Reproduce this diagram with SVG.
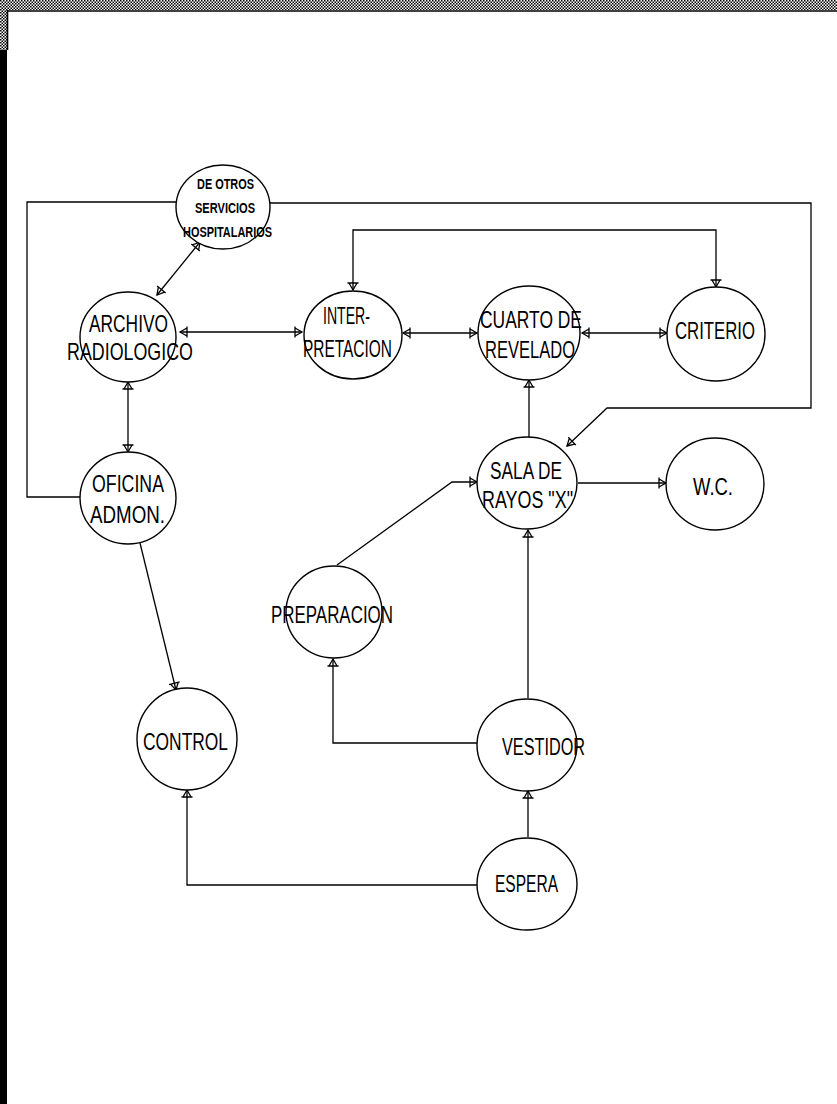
<svg xmlns="http://www.w3.org/2000/svg" width="837" height="1104" viewBox="0 0 837 1104">
<style>
.n ellipse{fill:#fff;stroke:#000;stroke-width:1.4}
.n text{font-family:"Liberation Sans",Arial,sans-serif;font-size:24px;fill:#000;text-anchor:middle}
.n text.s{font-size:14.5px;font-weight:bold}
.c path{fill:none;stroke:#000;stroke-width:1.3}
</style>
<defs>
<pattern id="dither" width="3" height="3" patternUnits="userSpaceOnUse">
<rect width="3" height="3" fill="#fff"/>
<rect x="0" y="0" width="1.5" height="1.5" fill="#000"/>
<rect x="1.5" y="1.5" width="1.5" height="1.5" fill="#000"/>
</pattern>
<marker id="ah" markerUnits="userSpaceOnUse" markerWidth="16" markerHeight="16" refX="0" refY="0" viewBox="-9 -8 11 16" orient="auto-start-reverse" overflow="visible">
<path d="M-7,-5.5 L-7,5.5 M-7,-4 L0,0 L-7,4" fill="none" stroke="#000" stroke-width="1.3"/>
</marker>
</defs>
<rect width="837" height="1104" fill="#fff"/>
<g id="border">
<rect x="0" y="0" width="837" height="10" fill="url(#dither)"/>
<rect x="0" y="0" width="7" height="50" fill="url(#dither)"/>
<rect x="0" y="50" width="7" height="1054" fill="#000"/>
<path d="M7,11 H837 M7.5,10 V50" stroke="#000" stroke-width="1.6" fill="none"/>
</g>
<g class="c" id="connectors">
<path d="M200,242 L157,295" marker-start="url(#ah)" marker-end="url(#ah)"/>
<path d="M80,497 H27 V202 H176"/>
<path d="M270,203 H811 V408 H607 L567,446" marker-end="url(#ah)"/>
<path d="M180,332 H302" marker-start="url(#ah)" marker-end="url(#ah)"/>
<path d="M403,333 H477" marker-start="url(#ah)" marker-end="url(#ah)"/>
<path d="M582,333 H667" marker-start="url(#ah)" marker-end="url(#ah)"/>
<path d="M716,287 V230 H353 V290" marker-start="url(#ah)" marker-end="url(#ah)"/>
<path d="M128,382 V452" marker-start="url(#ah)" marker-end="url(#ah)"/>
<path d="M140,543 L176,690" marker-end="url(#ah)"/>
<path d="M529,437 V380" marker-end="url(#ah)"/>
<path d="M578,483 H666" marker-end="url(#ah)"/>
<path d="M337,565 L452,482 H477" marker-end="url(#ah)"/>
<path d="M528,698 V530" marker-end="url(#ah)"/>
<path d="M477,743 H333 V659" marker-end="url(#ah)"/>
<path d="M528,837 V791" marker-end="url(#ah)"/>
<path d="M477,885 H187 V790" marker-end="url(#ah)"/>
</g>
<g class="n" id="otros">
<ellipse cx="223" cy="207" rx="47" ry="42"/>
<text class="s" x="225.5" y="189" textLength="57" lengthAdjust="spacingAndGlyphs">DE OTROS</text>
<text class="s" x="225" y="213" textLength="60" lengthAdjust="spacingAndGlyphs">SERVICIOS</text>
<text class="s" x="227.5" y="237" textLength="89" lengthAdjust="spacingAndGlyphs">HOSPITALARIOS</text>
</g>
<g class="n" id="archivo">
<ellipse cx="128" cy="337" rx="48" ry="45"/>
<text x="128.5" y="332" textLength="79" lengthAdjust="spacingAndGlyphs">ARCHIVO</text>
<text x="130" y="360" textLength="126" lengthAdjust="spacingAndGlyphs">RADIOLOGICO</text>
</g>
<g class="n" id="interpretacion">
<ellipse cx="353" cy="335" rx="49" ry="44"/>
<text x="346.5" y="324" textLength="47" lengthAdjust="spacingAndGlyphs">INTER-</text>
<text x="347.5" y="357" textLength="89" lengthAdjust="spacingAndGlyphs">PRETACION</text>
</g>
<g class="n" id="cuarto">
<ellipse cx="529" cy="333" rx="51" ry="47"/>
<text x="531" y="328" textLength="102" lengthAdjust="spacingAndGlyphs">CUARTO DE</text>
<text x="530" y="358" textLength="90" lengthAdjust="spacingAndGlyphs">REVELADO</text>
</g>
<g class="n" id="criterio">
<ellipse cx="716" cy="334" rx="49" ry="47"/>
<text x="715" y="339" textLength="80" lengthAdjust="spacingAndGlyphs">CRITERIO</text>
</g>
<g class="n" id="oficina">
<ellipse cx="128" cy="498" rx="48" ry="46"/>
<text x="128" y="492" textLength="72" lengthAdjust="spacingAndGlyphs">OFICINA</text>
<text x="127.5" y="523" textLength="75" lengthAdjust="spacingAndGlyphs">ADMON.</text>
</g>
<g class="n" id="sala">
<ellipse cx="527" cy="483" rx="50" ry="46"/>
<text x="526" y="479" textLength="72" lengthAdjust="spacingAndGlyphs">SALA DE</text>
<text x="527.5" y="508" textLength="91" lengthAdjust="spacingAndGlyphs">RAYOS "X"</text>
</g>
<g class="n" id="wc">
<ellipse cx="715" cy="484" rx="49" ry="46"/>
<text x="713" y="495" textLength="40" lengthAdjust="spacingAndGlyphs">W.C.</text>
</g>
<g class="n" id="preparacion">
<ellipse cx="334" cy="612" rx="48" ry="46"/>
<text x="332" y="623" textLength="122" lengthAdjust="spacingAndGlyphs">PREPARACION</text>
</g>
<g class="n" id="control">
<ellipse cx="187" cy="739" rx="50" ry="51"/>
<text x="185.5" y="750" textLength="85" lengthAdjust="spacingAndGlyphs">CONTROL</text>
</g>
<g class="n" id="vestidor">
<ellipse cx="527" cy="745" rx="50" ry="46"/>
<text x="543.5" y="755" textLength="83" lengthAdjust="spacingAndGlyphs">VESTIDOR</text>
</g>
<g class="n" id="espera">
<ellipse cx="527" cy="884" rx="50" ry="46"/>
<text x="526.5" y="892" textLength="63" lengthAdjust="spacingAndGlyphs">ESPERA</text>
</g>
</svg>
